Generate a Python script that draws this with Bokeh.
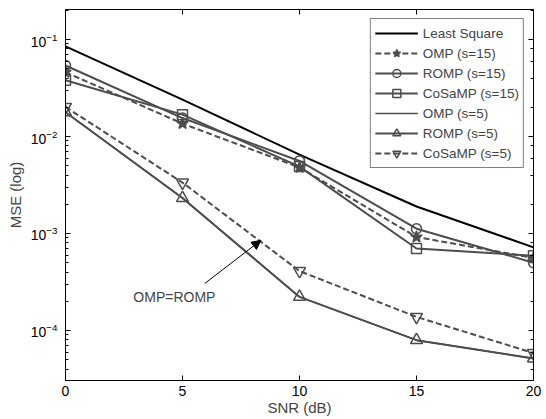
from bokeh.plotting import figure
from bokeh.models import (LogAxis, LinearAxis, Legend, LegendItem, Arrow, NormalHead,
                          Label, FixedTicker, Range1d)
from bokeh.embed import file_html
from bokeh.resources import INLINE

snr = [0, 5, 10, 15, 20]
least_square = [0.085, 0.024, 0.0065, 0.0019, 0.00072]
omp15 = [0.046, 0.0136, 0.0048, 0.00092, 0.00056]
romp15 = [0.054, 0.0155, 0.0056, 0.00112, 0.0005]
cosamp15 = [0.038, 0.0168, 0.0049, 0.00070, 0.00059]
omp5 = [0.0178, 0.00232, 0.000222, 0.0000795, 0.0000515]
romp5 = [0.0178, 0.00232, 0.000222, 0.0000795, 0.0000515]
cosamp5 = [0.0202, 0.00335, 0.000410, 0.000138, 0.0000585]
x_ticks = [0, 5, 10, 15, 20]

FONT = "Liberation Sans"
GRAY = "#4d4d4d"

p = figure(width=546, height=419, y_axis_type="log",
           x_range=Range1d(0, 20), y_range=Range1d(3.05e-5, 0.204),
           output_backend="svg", toolbar_location=None,
           min_border_left=65, min_border_right=13, min_border_top=9, min_border_bottom=39)
p.grid.visible = False
p.outline_line_color = "black"
p.outline_line_width = 1
p.background_fill_color = "white"

def style_axis(ax, labels=True, minor=True):
    ax.axis_line_color = "black"
    ax.axis_line_width = 1
    ax.major_tick_in = 5
    ax.major_tick_out = 0
    ax.minor_tick_in = 3
    ax.minor_tick_out = 0
    ax.major_tick_line_color = "black"
    ax.minor_tick_line_color = "black" if minor else None
    ax.major_label_text_font = FONT
    ax.major_label_text_font_size = "14px"
    ax.major_label_text_color = "black"
    ax.axis_label_text_font = FONT
    ax.axis_label_text_font_size = "15px"
    ax.axis_label_text_font_style = "normal"
    if not labels:
        ax.major_label_text_font_size = "1px"
        ax.major_label_text_color = None
        ax.major_label_standoff = 0

xa = p.xaxis[0]
style_axis(xa, minor=False)
xa.ticker = FixedTicker(ticks=x_ticks)
xa.axis_label = "SNR (dB)"
xa.axis_label_standoff = 0
xa.major_label_standoff = 5

ya = p.yaxis[0]
style_axis(ya)
ya.axis_label = "MSE (log)"
ya.axis_label_standoff = 4
ya.major_label_standoff = 8

top = LinearAxis(ticker=FixedTicker(ticks=x_ticks))
style_axis(top, labels=False, minor=False)
p.add_layout(top, "above")
right = LogAxis()
style_axis(right, labels=False)
p.add_layout(right, "right")

r_ls = p.line(snr, least_square, line_color="black", line_width=2)
r_omp15 = p.line(snr, omp15, line_color=GRAY, line_width=2, line_dash="6 3")
m_omp15 = p.scatter(snr, omp15, marker="star", size=12, line_color=GRAY, fill_color=GRAY, line_width=1.5)
r_romp15 = p.line(snr, romp15, line_color=GRAY, line_width=2)
m_romp15 = p.scatter(snr, romp15, marker="circle", size=10, line_color=GRAY, fill_alpha=0, line_width=1.5)
r_cos15 = p.line(snr, cosamp15, line_color=GRAY, line_width=2)
m_cos15 = p.scatter(snr, cosamp15, marker="square", size=10, line_color=GRAY, fill_alpha=0, line_width=1.5)
r_omp5 = p.line(snr, omp5, line_color=GRAY, line_width=1.5)
r_romp5 = p.line(snr, romp5, line_color=GRAY, line_width=2)
m_romp5 = p.scatter(snr, romp5, marker="triangle", size=12, line_color=GRAY, fill_alpha=0, line_width=1.5)
r_cos5 = p.line(snr, cosamp5, line_color=GRAY, line_width=2, line_dash="6 3")
m_cos5 = p.scatter(snr, cosamp5, marker="inverted_triangle", size=12, line_color=GRAY, fill_alpha=0, line_width=1.5)

legend = Legend(items=[
    LegendItem(label="Least Square", renderers=[r_ls]),
    LegendItem(label="OMP (s=15)", renderers=[r_omp15, m_omp15]),
    LegendItem(label="ROMP (s=15)", renderers=[r_romp15, m_romp15]),
    LegendItem(label="CoSaMP (s=15)", renderers=[r_cos15, m_cos15]),
    LegendItem(label="OMP (s=5)", renderers=[r_omp5]),
    LegendItem(label="ROMP (s=5)", renderers=[r_romp5, m_romp5]),
    LegendItem(label="CoSaMP (s=5)", renderers=[r_cos5, m_cos5]),
], location="top_right")
legend.label_text_font = FONT
legend.label_text_font_size = "13.5px"
legend.label_height = 20
legend.glyph_height = 20
legend.glyph_width = 43
legend.spacing = 0
legend.padding = 4
legend.margin = 9
legend.label_standoff = 5
legend.border_line_color = "black"
legend.border_line_width = 1
legend.background_fill_alpha = 1
p.add_layout(legend)

p.add_layout(Arrow(end=NormalHead(size=9, fill_color="black", line_color="black"),
                   x_start=5.95, y_start=3.05e-4, x_end=8.35, y_end=8.5e-4,
                   line_color="black", line_width=1))
p.add_layout(Label(x=2.9, y=2.2e-4, text="OMP=ROMP", text_font=FONT,
                   text_font_size="14px", text_baseline="middle"))

open("out.html", "w").write(file_html(p, INLINE))
